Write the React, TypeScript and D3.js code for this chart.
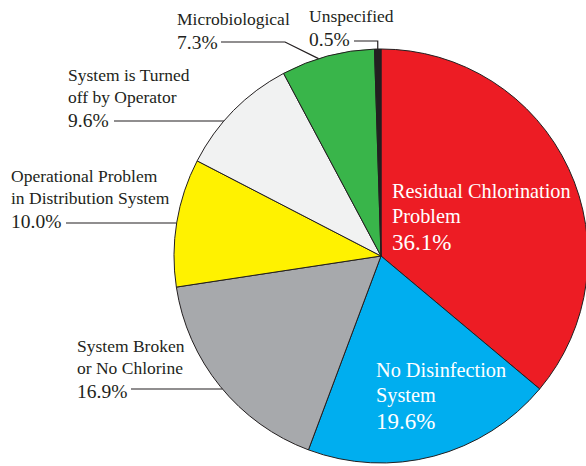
import { arc, pie } from 'd3'

const categories = [
  'Residual Chlorination Problem',
  'No Disinfection System',
  'System Broken or No Chlorine',
  'Operational Problem in Distribution System',
  'System is Turned off by Operator',
  'Microbiological',
  'Unspecified',
]
const shares = [36.1, 19.6, 16.9, 10.0, 9.6, 7.3, 0.5]
const colors = ['#ED1C24', '#00AEEF', '#A7A9AC', '#FFF200', '#F1F2F2', '#39B54A', '#231F20']

// label text lines per slice
const labelLines = [
  ['Residual Chlorination', 'Problem'],
  ['No Disinfection', 'System'],
  ['System Broken', 'or No Chlorine'],
  ['Operational Problem', 'in Distribution System'],
  ['System is Turned', 'off by Operator'],
  ['Microbiological'],
  ['Unspecified'],
]

const width = 586
const height = 466
const cx = 381
const cy = 256
const radius = 207
const ink = '#231F20'
const font = '"Liberation Serif", "Times New Roman", serif'

type Label = {
  x: number
  y: number
  inside?: boolean
  // leader runs horizontally at y from x0 to the pie edge (or via an elbow)
  leader?: { y: number; x0: number; elbowX?: number }
}

const labels: Label[] = [
  { x: 392, y: 198, inside: true },
  { x: 376, y: 377, inside: true },
  { x: 77, y: 352, leader: { y: 389, x0: 131 } },
  { x: 11, y: 182, leader: { y: 223, x0: 66 } },
  { x: 68, y: 81, leader: { y: 121, x0: 114 } },
  { x: 177, y: 25, leader: { y: 42, x0: 221, elbowX: 285 } },
  { x: 309, y: 22, leader: { y: 41, x0: 354 } },
]

const polar = (angle: number, r: number) => [
  cx + r * Math.sin(angle),
  cy - r * Math.cos(angle),
]

export default function App() {
  const arcs = pie<number>().sort(null).value((d) => d)(shares)
  const pathGen = arc<any>().innerRadius(0).outerRadius(radius)

  return (
    <svg
      width={width}
      height={height}
      style={{ position: 'absolute', left: 0, top: 0, background: '#fff' }}
      fontFamily={font}
    >
      <g transform={`translate(${cx}, ${cy})`}>
        {arcs.map((a, i) => (
          <path
            key={categories[i]}
            d={pathGen(a) ?? ''}
            fill={colors[i]}
            stroke={ink}
            strokeWidth={1}
            strokeLinejoin="round"
          />
        ))}
      </g>

      {labels.map((lab, i) => {
        const a = arcs[i]
        const textFill = lab.inside ? '#fff' : ink
        const lineSize = lab.inside ? 20.3 : 17.5
        const pctSize = lab.inside ? 23 : 19.5
        const step = lab.inside ? 25 : 22
        const pctY = lab.y + step * labelLines[i].length + 2
        let leaderPath = ''
        if (lab.leader) {
          const { y, x0, elbowX } = lab.leader
          if (elbowX !== undefined) {
            const mid = a.startAngle + (a.endAngle - a.startAngle) * 0.4
            const [ex, ey] = polar(mid, radius)
            leaderPath = `M${x0},${y}H${elbowX}L${ex},${ey}`
          } else if (i === labels.length - 1) {
            const mid = (a.startAngle + a.endAngle) / 2
            const [ex, ey] = polar(mid, radius)
            leaderPath = `M${x0},${y}H${ex}V${ey}`
          } else {
            const ex = cx - Math.sqrt(radius * radius - (y - cy) * (y - cy))
            leaderPath = `M${x0},${y}H${ex}`
          }
        }
        return (
          <g key={`lab-${i}`}>
            {labelLines[i].map((line, j) => (
              <text
                key={line}
                x={lab.x}
                y={lab.y + step * j}
                fontSize={lineSize}
                fill={textFill}
              >
                {line}
              </text>
            ))}
            <text x={lab.x} y={pctY} fontSize={pctSize} fill={textFill}>
              {shares[i].toFixed(1)}%
            </text>
            {leaderPath ? (
              <path d={leaderPath} fill="none" stroke={ink} strokeWidth={1.2} />
            ) : null}
          </g>
        )
      })}
    </svg>
  )
}
